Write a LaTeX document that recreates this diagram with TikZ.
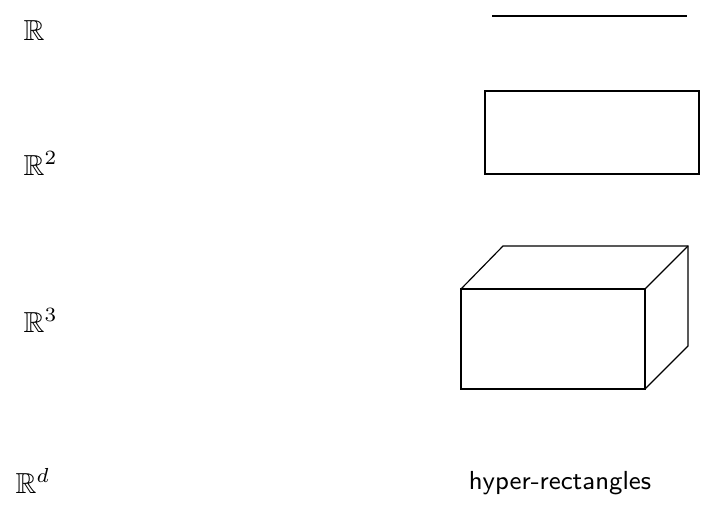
\documentclass[tikz,border=0pt]{standalone}
\usepackage{amsfonts}
\usepackage{amssymb}
\usetikzlibrary{positioning}
\tikzstyle{space}=[inner sep=0pt, anchor=base west]
\tikzstyle{lbl}=[inner sep=0pt, anchor=base, font=\small\sffamily]

\begin{document}
\begin{tikzpicture}[x=0.345pt, y=-0.345pt]
\useasboundingbox (0,0) rectangle (713,514);
\node[space] (R1) at (23,40) {$\mathbb{R}$};
\node[space] (R2) at (23,175) {$\mathbb{R}^2$};
\node[space] (R3) at (23,332) {$\mathbb{R}^3$};
\node[space] (Rd) at (15,493) {$\mathbb{R}^d$};

\draw (492,16) -- (687,16);
\draw (485,91) rectangle (699,174);
\draw (461,289) rectangle (645,389);
\draw (461,289) -- ++(42,-43) -- (688,246) -- (688,346) -- (645,389);
\draw (645,289) -- (688,246);

\node[lbl] (hyper) at (560,489) {hyper-rectangles};
\end{tikzpicture}
\end{document}
